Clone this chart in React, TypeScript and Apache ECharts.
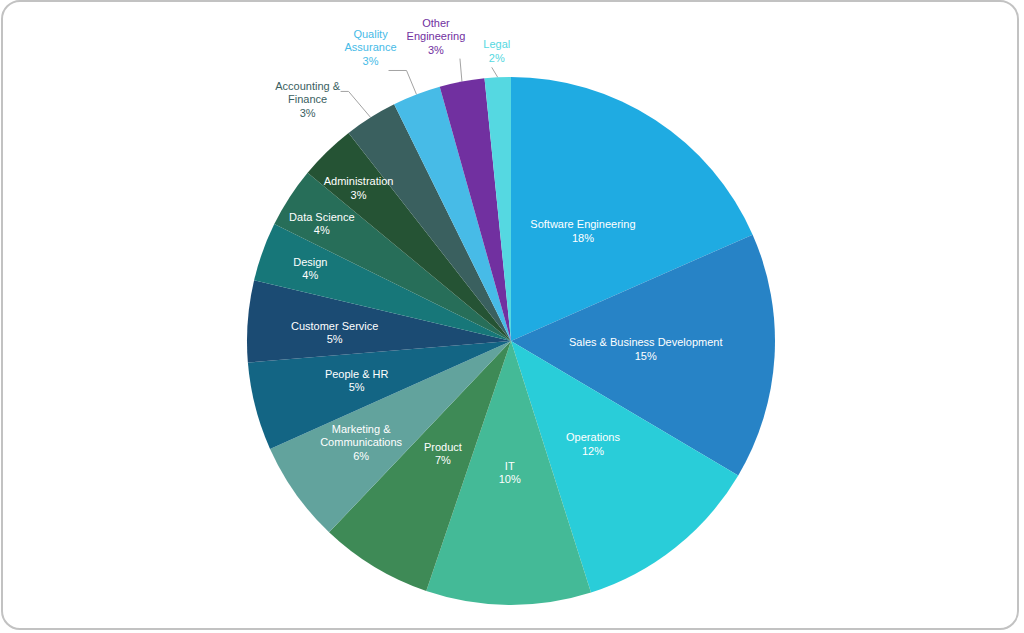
import { useEffect, useRef } from 'react';
import * as echarts from 'echarts';

const categories = [
  'Software Engineering',
  'Sales & Business Development',
  'Operations',
  'IT',
  'Product',
  'Marketing & Communications',
  'People & HR',
  'Customer Service',
  'Design',
  'Data Science',
  'Administration',
  'Accounting & Finance',
  'Quality Assurance',
  'Other Engineering',
  'Legal',
];

const labelNames = [
  'Software Engineering',
  'Sales & Business Development',
  'Operations',
  'IT',
  'Product',
  'Marketing &\nCommunications',
  'People & HR',
  'Customer Service',
  'Design',
  'Data Science',
  'Administration',
  'Accounting &\nFinance',
  'Quality\nAssurance',
  'Other\nEngineering',
  'Legal',
];

const shares = [18.4, 15.1, 11.6, 10.1, 6.9, 6.2, 5.4, 5.0, 3.6, 3.7, 3.45, 3.25, 2.95, 2.75, 1.6];

const sliceColors = [
  '#1fabe2',
  '#2783c6',
  '#29cdd9',
  '#44ba97',
  '#3e8a56',
  '#62a39d',
  '#136584',
  '#1b4b73',
  '#177779',
  '#276e59',
  '#255334',
  '#3a605f',
  '#47bbe7',
  '#7130a0',
  '#55d8e1',
];

const outsideLabels = ['Accounting & Finance', 'Quality Assurance', 'Other Engineering', 'Legal'];

const CENTER = [511, 341];
const RADIUS = 264;

// placement of inside labels: radial scale relative to the default half-radius, plus a vertical nudge
const DEFAULT_LABEL_SCALE = 0.975;
const labelPlacement: Record<string, { k: number; dy: number }> = {
  'Sales & Business Development': { k: 1, dy: 0 },
  'Marketing & Communications': { k: 1.36, dy: -5 },
  'People & HR': { k: 1.18, dy: 0 },
  'Customer Service': { k: 1.31, dy: 5 },
  Design: { k: 1.58, dy: 0 },
  'Data Science': { k: 1.67, dy: 5 },
  Administration: { k: 1.62, dy: 4 },
};

// leader line shapes for outer labels, relative to the point on the rim
const leaderShape: Record<string, { bend: number[]; run: number; text: number[]; va: string }> = {
  Legal: { bend: [-6, -10], run: 0, text: [5, -3], va: 'bottom' },
  'Other Engineering': { bend: [-2, -23], run: 0, text: [-24, -2], va: 'bottom' },
  'Quality Assurance': { bend: [-10, -24], run: -18, text: [-18, -3], va: 'bottom' },
  'Accounting & Finance': { bend: [-22, -26], run: -8, text: [-33, 8], va: 'middle' },
};

export default function App() {
  const ref = useRef<HTMLDivElement>(null);
  useEffect(() => {
    if (!ref.current) return;
    const chart = echarts.init(ref.current, null, { renderer: 'svg' });
    const fontFamily = '"Liberation Sans", Arial, Helvetica, sans-serif';
    chart.setOption({
      animation: false,
      backgroundColor: '#ffffff',
      graphic: [
        {
          type: 'rect',
          shape: { x: 2, y: 1, width: 1016, height: 628, r: 18 },
          style: { fill: 'none', stroke: '#c2c2c2', lineWidth: 2 },
          silent: true,
        },
      ],
      series: [
        {
          type: 'pie',
          center: CENTER,
          radius: RADIUS,
          startAngle: 90,
          clockwise: true,
          avoidLabelOverlap: false,
          itemStyle: { borderWidth: 0 },
          label: {
            show: true,
            position: 'inside',
            color: '#ffffff',
            fontFamily,
            fontSize: 11,
            lineHeight: 13.5,
            align: 'center',
            formatter: (p: any) => `${labelNames[p.dataIndex]}\n${Math.round(p.percent)}%`,
          },
          labelLine: {
            show: true,
            length: 10,
            length2: 5,
            lineStyle: { color: '#a3a3a3', width: 1 },
          },
          labelLayout: (params: any) => {
            const name = categories[params.dataIndex];
            if (outsideLabels.includes(name)) {
              const pts = params.labelLinePoints;
              const s = leaderShape[name];
              if (!pts || !pts[0] || !s) return {};
              const p0 = pts[0];
              const bend = [p0[0] + s.bend[0], p0[1] + s.bend[1]];
              const end = [bend[0] + s.run, bend[1]];
              return {
                x: end[0] + s.text[0],
                y: end[1] + s.text[1],
                align: 'center',
                verticalAlign: s.va,
                labelLinePoints: [p0, bend, end],
              };
            }
            const pl = labelPlacement[name] || { k: DEFAULT_LABEL_SCALE, dy: 0 };
            const lr = params.labelRect;
            const cx = lr.x + lr.width / 2;
            const cy = lr.y + lr.height / 2;
            return {
              x: CENTER[0] + pl.k * (cx - CENTER[0]),
              y: CENTER[1] + pl.k * (cy - CENTER[1]) + pl.dy,
              align: 'center',
              verticalAlign: 'middle',
            };
          },
          data: categories.map((name, i) => {
            const outside = outsideLabels.includes(name);
            return {
              name,
              value: shares[i],
              itemStyle: { color: sliceColors[i] },
              label: outside ? { position: 'outside', color: sliceColors[i] } : { position: 'inside' },
              labelLine: { show: outside },
            };
          }),
        },
      ],
    });
    return () => chart.dispose();
  }, []);
  return (
    <div
      ref={ref}
      style={{ position: 'fixed', left: 0, top: 0, width: 1024, height: 633, background: '#fff' }}
    />
  );
}
